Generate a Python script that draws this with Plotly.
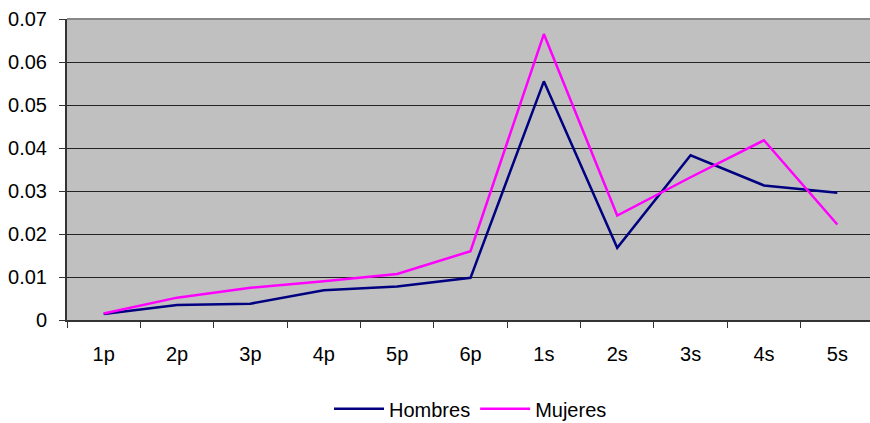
import plotly.graph_objects as go

categories = ["1p", "2p", "3p", "4p", "5p", "6p", "1s", "2s", "3s", "4s", "5s"]
hombres = [0.0014, 0.0035, 0.0038, 0.0069, 0.0078, 0.0098, 0.0555, 0.0168, 0.0383, 0.0313, 0.0296]
mujeres = [0.0015, 0.0052, 0.0075, 0.0090, 0.0107, 0.0160, 0.0665, 0.0243, 0.0332, 0.0418, 0.0222]
y_ticks = [0, 0.01, 0.02, 0.03, 0.04, 0.05, 0.06, 0.07]
y_labels = ["0", "0.01", "0.02", "0.03", "0.04", "0.05", "0.06", "0.07"]

fig = go.Figure()
fig.add_trace(go.Scatter(x=categories, y=hombres, mode="lines", name="Hombres",
                         line=dict(color="#000080", width=2.5)))
fig.add_trace(go.Scatter(x=categories, y=mujeres, mode="lines", name="Mujeres",
                         line=dict(color="#FF00FF", width=2.5)))

fig.update_layout(
    width=874, height=423,
    margin=dict(l=67, r=0, t=19, b=103, autoexpand=False),
    paper_bgcolor="white",
    plot_bgcolor="#C0C0C0",
    font=dict(family="Liberation Sans, Arial, sans-serif", size=20, color="black"),
    showlegend=True,
    legend=dict(orientation="h", x=0.5, xanchor="center", y=-0.23, yanchor="top",
                font=dict(size=20), bgcolor="rgba(0,0,0,0)", itemwidth=50),
    xaxis=dict(type="category", tickson="boundaries", ticks="outside", ticklen=6,
               tickcolor="#333333", showgrid=False, showline=True, linecolor="#333333",
               linewidth=2, range=[-0.5, 10.5], ticklabelstandoff=15, zeroline=False,
               automargin=False),
    yaxis=dict(range=[0, 0.07], tickvals=y_ticks, ticktext=y_labels, ticks="outside",
               ticklen=6, tickcolor="#333333", showgrid=True, gridcolor="#222222",
               gridwidth=1, showline=True, linecolor="#333333", linewidth=2,
               zeroline=False, ticklabelstandoff=8, automargin=False),
)
fig.add_shape(type="line", xref="paper", yref="paper", x0=0, x1=1, y0=1, y1=1,
              line=dict(color="#888888", width=2))
fig.write_html("out.html", config={"displayModeBar": False},
               post_script="document.body.style.margin='0';document.body.style.overflow='hidden';")
